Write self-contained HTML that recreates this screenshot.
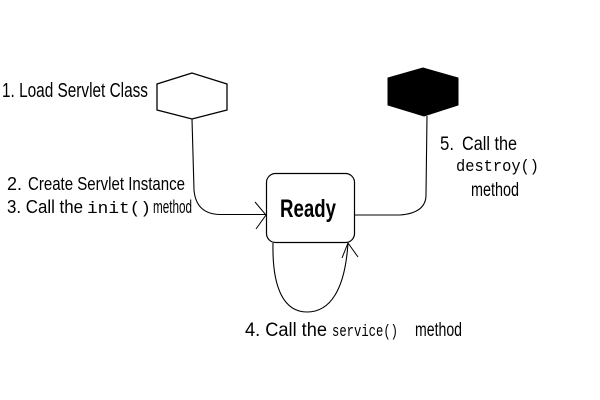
<!DOCTYPE html>
<html>
<head>
<meta charset="utf-8">
<style>
html,body{margin:0;padding:0;background:#fff;}
svg{display:block;}
text{font-family:"Liberation Sans",Arial,sans-serif;fill:#000;}
.m{font-family:"Liberation Mono","Courier New",monospace;}
</style>
</head>
<body>
<svg width="600" height="400" viewBox="0 0 600 400" xmlns="http://www.w3.org/2000/svg">
<rect width="600" height="400" fill="#fff"/>
<!-- white hexagon -->
<polygon points="192,73 157,84 157,110 192,119 227,110 227,84" fill="#fff" stroke="#000" stroke-width="1.3"/>
<!-- black hexagon -->
<polygon points="423,68 388,78 388,105 424,116 458,105 458,78" fill="#000" stroke="#000" stroke-width="1"/>
<!-- Ready box -->
<rect x="266.5" y="173.5" width="88" height="69" rx="9" ry="9" fill="#fff" stroke="#000" stroke-width="1.2"/>
<text x="280" y="217" font-size="25" font-weight="bold" textLength="56" lengthAdjust="spacingAndGlyphs">Ready</text>
<!-- connector from white hexagon to Ready -->
<path d="M192,119 L194,190 Q196,214 220,214.5 L266,214.5" fill="none" stroke="#000" stroke-width="1.1"/>
<path d="M255,202 L266,215 L256,229" fill="none" stroke="#000" stroke-width="1"/>
<!-- connector Ready to black hexagon -->
<path d="M354,215 L400,215 Q426,213 426,195 L427,116" fill="none" stroke="#000" stroke-width="1.1"/>
<!-- self loop -->
<path d="M273,243 C272,290 285,312 307,312 C330,312 345,290 348,243" fill="none" stroke="#000" stroke-width="1.1"/>
<path d="M342,258 L348,243 L358,257" fill="none" stroke="#000" stroke-width="1"/>
<!-- labels -->
<text x="2" y="97" font-size="20" textLength="146" lengthAdjust="spacingAndGlyphs">1. Load Servlet Class</text>
<text x="7" y="190" font-size="18" textLength="15" lengthAdjust="spacingAndGlyphs">2.</text>
<text x="28" y="190" font-size="18" textLength="157" lengthAdjust="spacingAndGlyphs">Create Servlet Instance</text>
<text x="7" y="213" font-size="18" textLength="76" lengthAdjust="spacingAndGlyphs">3. Call the</text>
<text class="m" x="87" y="213" font-size="17" textLength="64" lengthAdjust="spacingAndGlyphs">init()</text>
<text x="153" y="213" font-size="18" textLength="39" lengthAdjust="spacingAndGlyphs">method</text>
<text x="440" y="150" font-size="19" textLength="14" lengthAdjust="spacingAndGlyphs">5.</text>
<text x="462" y="150" font-size="19" textLength="55" lengthAdjust="spacingAndGlyphs">Call the</text>
<text class="m" x="456" y="171" font-size="17" textLength="83" lengthAdjust="spacingAndGlyphs">destroy()</text>
<text x="471" y="196" font-size="19" textLength="48" lengthAdjust="spacingAndGlyphs">method</text>
<text x="245" y="336" font-size="19" textLength="82" lengthAdjust="spacingAndGlyphs">4. Call the</text>
<text class="m" x="332" y="336" font-size="17" textLength="66" lengthAdjust="spacingAndGlyphs">service()</text>
<text x="415" y="336" font-size="19" textLength="47" lengthAdjust="spacingAndGlyphs">method</text>
</svg>
</body>
</html>
